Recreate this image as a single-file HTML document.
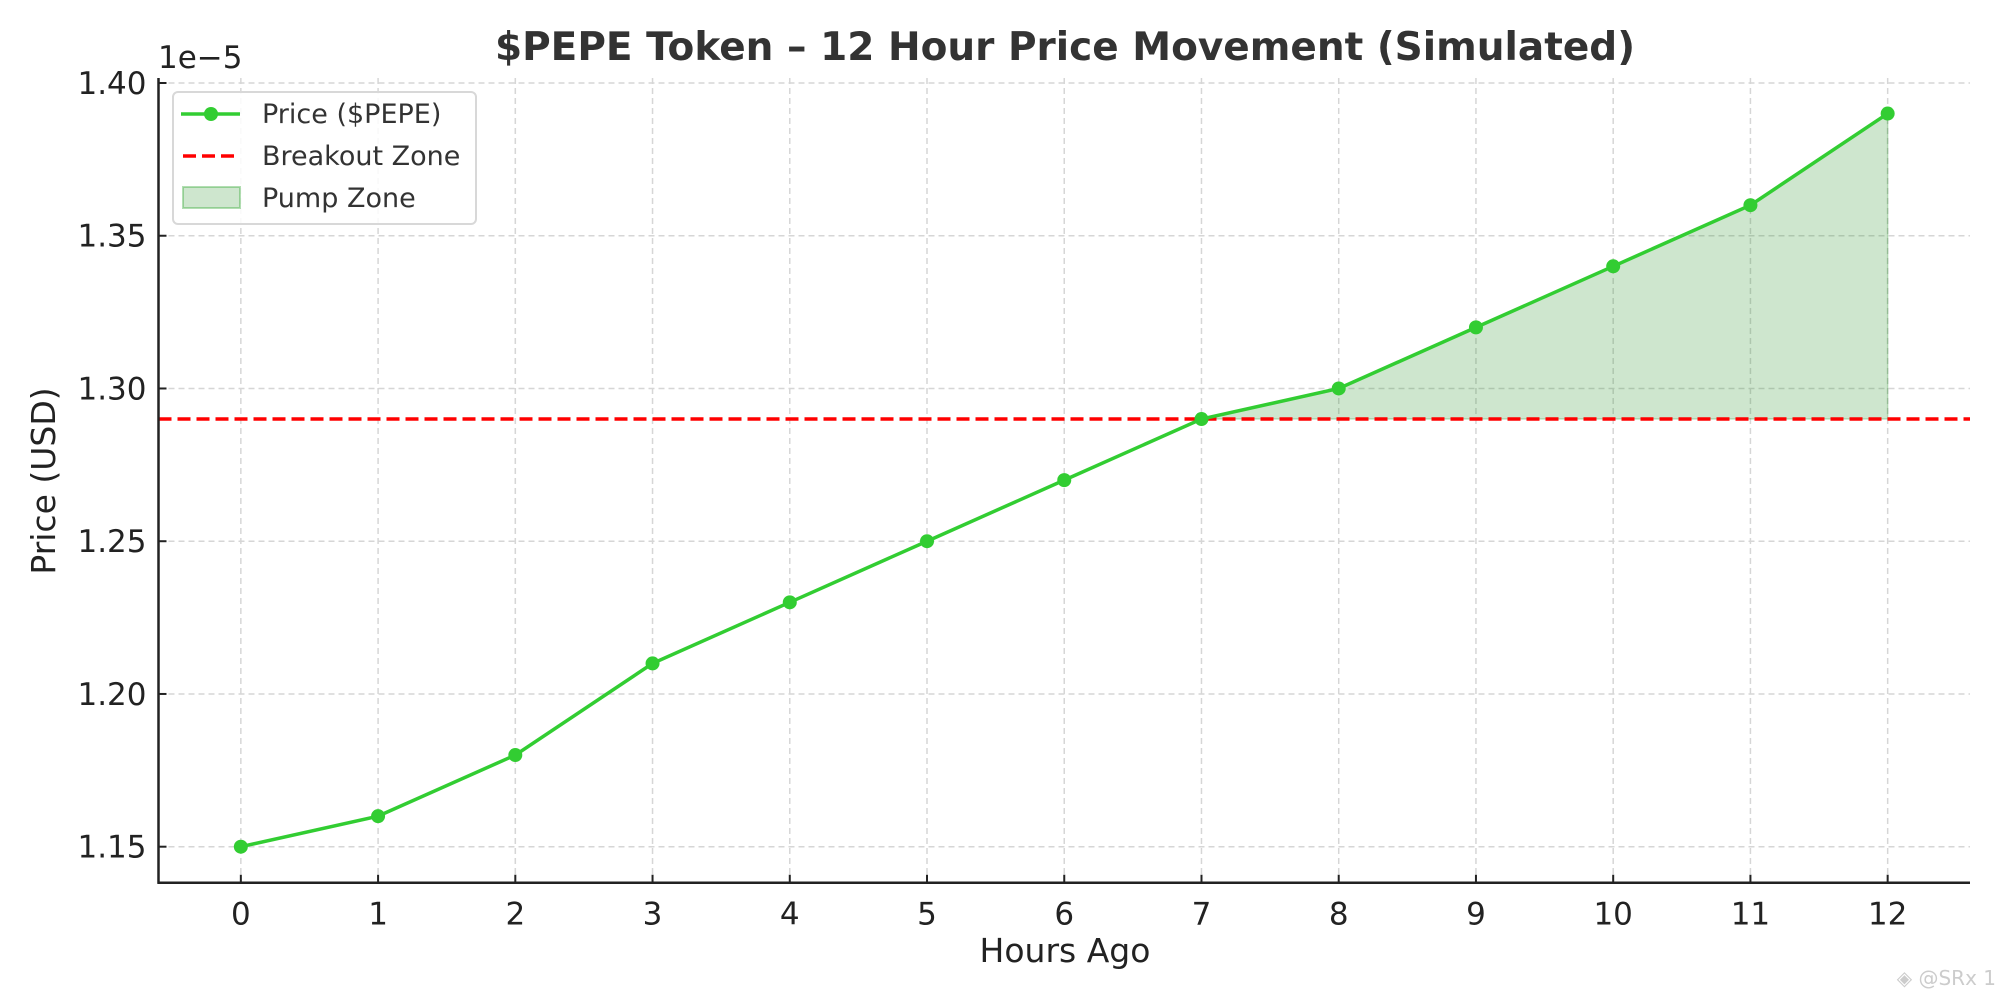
<!DOCTYPE html>
<html><head><meta charset="utf-8"><style>
body{margin:0;background:#fff}
svg text{font-family:"DejaVu Sans","Liberation Sans",sans-serif}
</style></head><body>
<svg id="chart" width="2000" height="1000" xmlns="http://www.w3.org/2000/svg">
<g id="grid"></g>
<g id="marks"></g>
<g id="axes"></g>
<text x="1065" y="60" text-anchor="middle" font-size="39" font-weight="bold" fill="#333">$PEPE Token – 12 Hour Price Movement (Simulated)</text>
<text x="158" y="68" font-size="31" fill="#222">1e−5</text>
<text x="1065" y="962" text-anchor="middle" font-size="33" fill="#222">Hours Ago</text>
<text transform="translate(55,481) rotate(-90)" text-anchor="middle" font-size="33" fill="#222">Price (USD)</text>
<g>
<rect x="173" y="92" width="303" height="132" rx="5" fill="#fff" fill-opacity="0.85" stroke="#d8d8d8" stroke-width="2"/>
<g><line x1="181" y1="114" x2="240" y2="114" stroke="#32cd32" stroke-width="3.5"/><circle cx="211" cy="114" r="7" fill="#32cd32"/><text x="262" y="123" font-size="27" fill="#333">Price ($PEPE)</text></g>
<g><line x1="183" y1="156" x2="240" y2="156" stroke="red" stroke-width="3.5" stroke-dasharray="13,6"/><text x="262" y="165" font-size="27" fill="#333">Breakout Zone</text></g>
<g><rect x="183" y="187" width="57" height="21" fill="rgba(34,139,34,0.22)" stroke="rgba(34,160,34,0.35)" stroke-width="2"/><text x="262" y="207" font-size="27" fill="#333">Pump Zone</text></g>
</g>
<text x="1996" y="985" text-anchor="end" font-size="20" fill="#ccc">◈ @SRx 1</text>
</svg>
<script>
const hours=[0,1,2,3,4,5,6,7,8,9,10,11,12];
const prices=[1.15,1.16,1.18,1.21,1.23,1.25,1.27,1.29,1.30,1.32,1.34,1.36,1.39];
const breakout=1.29;
const yTicks=[1.15,1.20,1.25,1.30,1.35,1.40];
const yTickLabels=["1.15","1.20","1.25","1.30","1.35","1.40"];
const xMin=-0.6,xMax=12.6,yMin=1.15-36/3054.8,yMax=1.40+5/3054.8;
const L=158.5,R=1970,B=882.7,T=78;
const sx=v=>L+(v-xMin)/(xMax-xMin)*(R-L);
const sy=v=>B-(v-yMin)/(yMax-yMin)*(B-T);
const NS="http://www.w3.org/2000/svg";
function mk(p,tag,at){const e=document.createElementNS(NS,tag);for(const k in at)e.setAttribute(k,at[k]);p.appendChild(e);return e;}
const grid=document.getElementById('grid'),marks=document.getElementById('marks'),axes=document.getElementById('axes');
hours.forEach(h=>{const g=mk(grid,'line',{x1:sx(h),x2:sx(h),y1:T,y2:B,stroke:'#d6d6d6','stroke-width':1.5,'stroke-dasharray':'6,4'});


const t=mk(axes,'line',{x1:sx(h),x2:sx(h),y1:B,y2:B-8,stroke:'#222','stroke-width':2});


const l=mk(axes,'text',{x:sx(h),y:B+42,'text-anchor':'middle','font-size':31,fill:'#222'});l.textContent=h;

});
yTicks.forEach((v,i)=>{const g=mk(grid,'line',{x1:L,x2:R,y1:sy(v),y2:sy(v),stroke:'#d6d6d6','stroke-width':1.5,'stroke-dasharray':'6,4'});


const t=mk(axes,'line',{x1:L,x2:L+8,y1:sy(v),y2:sy(v),stroke:'#222','stroke-width':2});


const l=mk(axes,'text',{x:L-12,y:sy(v)+11,'text-anchor':'end','font-size':31,fill:'#222'});l.textContent=yTickLabels[i];

});
let pts=[];hours.forEach((h,i)=>{if(prices[i]>=breakout&&h>=7)pts.push(sx(h)+','+sy(prices[i]));});
const hs=hours.filter((h,i)=>prices[i]>=breakout&&h>=7);
pts.push(sx(hs[hs.length-1])+','+sy(breakout));pts.push(sx(hs[0])+','+sy(breakout));
const f=mk(marks,'polygon',{points:pts.join(' '),fill:'rgba(34,139,34,0.22)',stroke:'rgba(34,139,34,0.25)','stroke-width':1.5});


const bl=mk(marks,'line',{x1:L,x2:R,y1:sy(breakout),y2:sy(breakout),stroke:'red','stroke-width':3.5,'stroke-dasharray':'13,6'});


const pl=mk(marks,'polyline',{points:hours.map((h,i)=>sx(h)+','+sy(prices[i])).join(' '),fill:'none',stroke:'#32cd32','stroke-width':3.5});


hours.forEach((h,i)=>{const c=mk(marks,'circle',{cx:sx(h),cy:sy(prices[i]),r:7,fill:'#32cd32'});

});
const la=mk(axes,'line',{x1:L,x2:L,y1:T,y2:B+1,stroke:'#222','stroke-width':2.5});


const ba=mk(axes,'line',{x1:L-1,x2:R,y1:B,y2:B,stroke:'#222','stroke-width':2.5});


</script>
</body></html>
